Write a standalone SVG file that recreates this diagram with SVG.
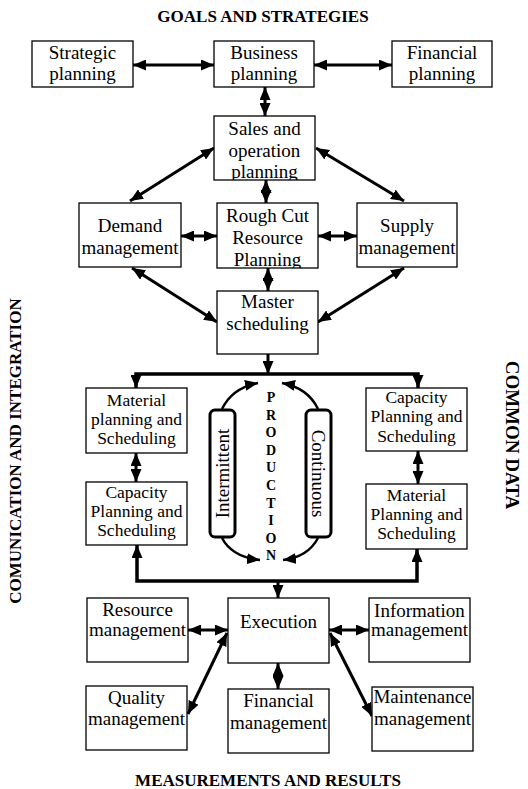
<svg xmlns="http://www.w3.org/2000/svg" width="528" height="789" viewBox="0 0 528 789">
  <style>
    .box { fill: #fff; stroke: #000; stroke-width: 1.3; }
    .t { font-family: "Liberation Serif", "Times New Roman", serif; font-size: 19px; fill: #000; text-anchor: middle; }
    .ts { font-family: "Liberation Serif", "Times New Roman", serif; font-size: 17.5px; fill: #000; text-anchor: middle; }
    .hd { font-family: "Liberation Serif", "Times New Roman", serif; font-size: 17px; font-weight: bold; fill: #000; text-anchor: middle; }
    .pr { font-family: "Liberation Serif", "Times New Roman", serif; font-size: 14px; font-weight: bold; fill: #000; text-anchor: middle; }
    .ln { fill: none; stroke: #000; stroke-width: 3; }
    .bar { fill: none; stroke: #000; stroke-width: 3.5; }
    .dbl { marker-start: url(#ah); marker-end: url(#ah); }
    .one { marker-end: url(#ah); }
    .pill { fill: #fff; stroke: #000; stroke-width: 3; }
  </style>
  <defs>
    <marker id="ah" markerUnits="userSpaceOnUse" markerWidth="14" markerHeight="11" refX="13" refY="5.5" orient="auto-start-reverse">
      <path d="M0,0 L13,5.5 L0,11 z" fill="#000"/>
    </marker>
    <clipPath id="clipSales"><rect x="214" y="116" width="101" height="64"/></clipPath>
    <clipPath id="clipRough"><rect x="217" y="203" width="101" height="65"/></clipPath>
  </defs>

  <!-- side headings -->
  <text class="hd" x="263" y="22">GOALS AND STRATEGIES</text>
  <text class="hd" x="268" y="786">MEASUREMENTS AND RESULTS</text>
  <text class="hd" transform="translate(21,451) rotate(-90)">COMUNICATION AND INTEGRATION</text>
  <text class="hd" transform="translate(506,435) rotate(90)" style="font-size:19px">COMMON DATA</text>

  <!-- connectors -->
  <g id="connectors">
    <line class="ln dbl" x1="133" y1="65" x2="214" y2="65"/>
    <line class="ln dbl" x1="314" y1="65" x2="392" y2="65"/>
    <line class="ln dbl" x1="265" y1="87" x2="265" y2="116"/>
    <line class="ln dbl" x1="266" y1="180" x2="266" y2="203"/>
    <line class="ln dbl" x1="130" y1="201" x2="214" y2="148"/>
    <line class="ln dbl" x1="316" y1="148" x2="404" y2="201"/>
    <line class="ln dbl" x1="181" y1="236" x2="217" y2="236"/>
    <line class="ln dbl" x1="318" y1="236" x2="357" y2="236"/>
    <line class="ln dbl" x1="268" y1="268" x2="268" y2="291"/>
    <line class="ln dbl" x1="132" y1="268" x2="217" y2="322"/>
    <line class="ln dbl" x1="404" y1="268" x2="318" y2="322"/>
    <!-- distribution from master scheduling -->
    <line class="ln one" x1="268" y1="354" x2="268" y2="374"/>
    <path class="bar dbl" d="M136,388 L136,374 L418,374 L418,388"/>
    <line class="ln dbl" x1="136" y1="453" x2="136" y2="482"/>
    <line class="ln dbl" x1="418" y1="451" x2="418" y2="484"/>
    <!-- production flows -->
    <path class="ln one" style="stroke-width:2.5" d="M222,409 Q232,388 258,383"/>
    <path class="ln one" style="stroke-width:2.5" d="M318,409 Q308,388 282,383"/>
    <path class="ln one" style="stroke-width:2.5" d="M222,538 Q232,557 260,560"/>
    <path class="ln one" style="stroke-width:2.5" d="M318,538 Q308,557 283,560"/>
    <!-- collection to execution -->
    <path class="bar dbl" d="M137,545 L137,581 L417,581 L417,549"/>
    <line class="ln one" x1="278" y1="581" x2="278" y2="598"/>
    <line class="ln dbl" x1="188" y1="630" x2="228" y2="630"/>
    <line class="ln dbl" x1="329" y1="630" x2="369" y2="630"/>
    <line class="ln dbl" x1="227" y1="633" x2="188" y2="714"/>
    <line class="ln dbl" x1="330" y1="633" x2="372" y2="716"/>
    <line class="ln dbl" x1="278" y1="663" x2="278" y2="689"/>
  </g>

  <g id="strategic">
    <rect class="box" x="32" y="41" width="101" height="46"/>
    <text class="t" x="82.5" y="59">Strategic</text>
    <text class="t" x="82.5" y="80">planning</text>
  </g>
  <g id="business">
    <rect class="box" x="214" y="41" width="100" height="46"/>
    <text class="t" x="264" y="59">Business</text>
    <text class="t" x="264" y="80">planning</text>
  </g>
  <g id="financial-planning">
    <rect class="box" x="392" y="41" width="100" height="46"/>
    <text class="t" x="442" y="59">Financial</text>
    <text class="t" x="442" y="80">planning</text>
  </g>
  <g id="sales">
    <rect class="box" x="214" y="116" width="101" height="64"/>
    <g clip-path="url(#clipSales)">
      <text class="t" x="264.5" y="135">Sales and</text>
      <text class="t" x="264.5" y="156.5">operation</text>
      <text class="t" x="264.5" y="178">planning</text>
    </g>
  </g>
  <g id="demand">
    <rect class="box" x="79" y="203" width="102" height="64"/>
    <text class="t" x="130" y="232">Demand</text>
    <text class="t" x="130" y="254">management</text>
  </g>
  <g id="rough-cut">
    <rect class="box" x="217" y="203" width="101" height="65"/>
    <g clip-path="url(#clipRough)">
      <text class="t" x="267.5" y="222">Rough Cut</text>
      <text class="t" x="267.5" y="243.5">Resource</text>
      <text class="t" x="267.5" y="265.5">Planning</text>
    </g>
  </g>
  <g id="supply">
    <rect class="box" x="357" y="203" width="100" height="64"/>
    <text class="t" x="407" y="232">Supply</text>
    <text class="t" x="407" y="254">management</text>
  </g>
  <g id="master">
    <rect class="box" x="217" y="291" width="101" height="63"/>
    <text class="t" x="267.5" y="308">Master</text>
    <text class="t" x="267.5" y="330">scheduling</text>
  </g>

  <g id="material-left">
    <rect class="box" x="86" y="388" width="101" height="65"/>
    <text class="ts" x="136.5" y="406">Material</text>
    <text class="ts" x="136.5" y="425">planning and</text>
    <text class="ts" x="136.5" y="444">Scheduling</text>
  </g>
  <g id="capacity-left">
    <rect class="box" x="86" y="482" width="101" height="63"/>
    <text class="ts" x="136.5" y="498">Capacity</text>
    <text class="ts" x="136.5" y="517">Planning and</text>
    <text class="ts" x="136.5" y="536">Scheduling</text>
  </g>
  <g id="capacity-right">
    <rect class="box" x="366" y="388" width="101" height="63"/>
    <text class="ts" x="416.5" y="403">Capacity</text>
    <text class="ts" x="416.5" y="422">Planning and</text>
    <text class="ts" x="416.5" y="442">Scheduling</text>
  </g>
  <g id="material-right">
    <rect class="box" x="366" y="484" width="101" height="65"/>
    <text class="ts" x="416.5" y="501">Material</text>
    <text class="ts" x="416.5" y="520">Planning and</text>
    <text class="ts" x="416.5" y="539">Scheduling</text>
  </g>

  <g id="production">
    <rect class="pill" x="210" y="410" width="25" height="127" rx="5"/>
    <rect class="pill" x="306" y="410" width="25" height="127" rx="5"/>
    <text class="t" transform="translate(229,473.5) rotate(-90)">Intermittent</text>
    <text class="t" transform="translate(312,473.5) rotate(90)">Continuous</text>
    <text class="pr" x="271" y="402">P</text>
    <text class="pr" x="271" y="419.6">R</text>
    <text class="pr" x="271" y="437.2">O</text>
    <text class="pr" x="271" y="454.8">D</text>
    <text class="pr" x="271" y="472.4">U</text>
    <text class="pr" x="271" y="490">C</text>
    <text class="pr" x="271" y="507.6">T</text>
    <text class="pr" x="271" y="525.2">I</text>
    <text class="pr" x="271" y="542.8">O</text>
    <text class="pr" x="271" y="560.4">N</text>
  </g>

  <g id="resource">
    <rect class="box" x="87" y="598" width="101" height="64"/>
    <text class="t" x="137.5" y="616">Resource</text>
    <text class="t" x="137.5" y="636">management</text>
  </g>
  <g id="execution">
    <rect class="box" x="228" y="598" width="101" height="65"/>
    <text class="t" x="278.5" y="628">Execution</text>
  </g>
  <g id="information">
    <rect class="box" x="369" y="598" width="101" height="64"/>
    <text class="t" x="419.5" y="617">Information</text>
    <text class="t" x="419.5" y="636">management</text>
  </g>
  <g id="quality">
    <rect class="box" x="86" y="686" width="101" height="64"/>
    <text class="t" x="136.5" y="704">Quality</text>
    <text class="t" x="136.5" y="725">management</text>
  </g>
  <g id="financial-management">
    <rect class="box" x="228" y="689" width="101" height="64"/>
    <text class="t" x="278.5" y="707">Financial</text>
    <text class="t" x="278.5" y="729">management</text>
  </g>
  <g id="maintenance">
    <rect class="box" x="372" y="687" width="101" height="64"/>
    <text class="t" x="422.5" y="703">Maintenance</text>
    <text class="t" x="422.5" y="725">management</text>
  </g>
</svg>
